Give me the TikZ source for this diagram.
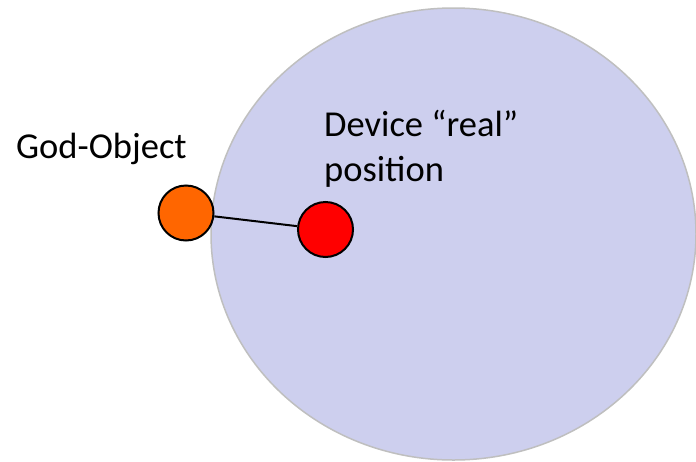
\documentclass[tikz,border=0pt]{standalone}
\usepackage{fontspec}
\setmainfont{Carlito}
\definecolor{zonefill}{HTML}{CDCFEE}
\definecolor{zoneline}{HTML}{BFBFBF}
\definecolor{godorange}{HTML}{FF6600}
\definecolor{devred}{HTML}{FF0000}
\tikzset{
  ball/.style={circle, draw=black, line width=2pt, minimum size=55pt, inner sep=0pt},
  lbl/.style={font=\fontsize{36.5}{45}\selectfont, inner sep=0pt, align=left},
}
\begin{document}
\begin{tikzpicture}[x=1pt,y=-1pt]
  \useasboundingbox (0,0) rectangle (696,461);
  % workspace region
  \fill[zonefill, draw=zoneline, line width=1.5pt] (453.5,234) ellipse [x radius=242.5, y radius=226];
  % proxy and device
  \node[ball, fill=godorange] (god) at (186,213) {};
  \node[ball, fill=devred] (dev) at (325.5,229.5) {};
  \draw[line width=2pt] (god) -- (dev);
  % labels (base anchor sits on the last line)
  \node[lbl, anchor=base west] (godlbl) at (16,158) {God-Object};
  \node[lbl, anchor=base west] (devlbl) at (324,181) {Device “real”\\position};
\end{tikzpicture}
\end{document}
